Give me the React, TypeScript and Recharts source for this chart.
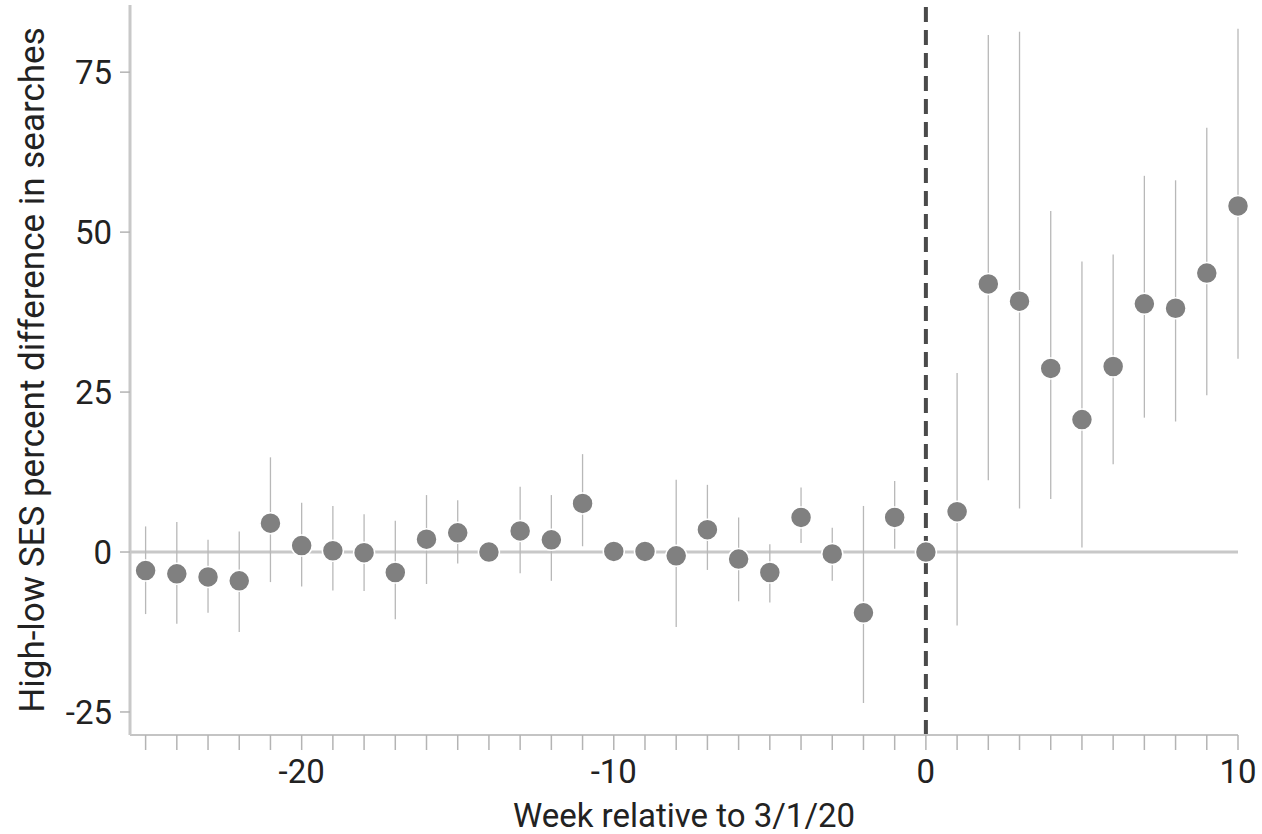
import React from 'react';
import {
  ScatterChart,
  Scatter,
  XAxis,
  YAxis,
  ErrorBar,
  ReferenceLine,
  Label,
} from 'recharts';

const weeks = [
  -25, -24, -23, -22, -21, -20, -19, -18, -17, -16, -15, -14, -13, -12, -11, -10,
  -9, -8, -7, -6, -5, -4, -3, -2, -1, 0, 1, 2, 3, 4, 5, 6, 7, 8, 9, 10,
];
const estimates = [
  -2.9, -3.4, -3.9, -4.5, 4.5, 1.0, 0.2, -0.1, -3.2, 2.0, 3.0, 0.0, 3.3, 1.9, 7.6, 0.1,
  0.1, -0.6, 3.5, -1.1, -3.2, 5.4, -0.3, -9.5, 5.4, 0.0, 6.3, 41.9, 39.2, 28.7, 20.7, 29.0,
  38.8, 38.1, 43.6, 54.1,
];
const lowerCI = [
  -9.7, -11.2, -9.5, -12.5, -4.7, -5.4, -6.0, -6.1, -10.5, -5.0, -1.8, -1.0, -3.3, -4.5, 0.9, -0.8,
  -0.8, -11.7, -2.8, -7.7, -7.9, 1.4, -4.5, -23.6, 0.5, 0.0, -11.5, 11.2, 6.8, 8.3, 0.7, 13.7,
  21.0, 20.4, 24.5, 30.2,
];
const upperCI = [
  4.0, 4.7, 1.9, 3.2, 14.8, 7.7, 7.2, 5.9, 4.9, 8.9, 8.1, 1.0, 10.2, 8.9, 15.3, 1.0,
  1.0, 11.3, 10.5, 5.4, 1.2, 10.1, 3.8, 7.2, 11.1, 0.0, 28.0, 80.8, 81.3, 53.3, 45.4, 46.5,
  58.8, 58.1, 66.3, 81.8,
];
const xTickLabels = [-20, -10, 0, 10];
const yTicks = [-25, 0, 25, 50, 75];

const data = weeks.map((w, i) => ({
  week: w,
  value: estimates[i],
  err: [estimates[i] - lowerCI[i], upperCI[i] - estimates[i]],
}));

const FONT = 'Roboto, sans-serif';
const TEXT = '#222222';

const Dot = (props: any) => {
  const { cx, cy } = props;
  if (cx == null || cy == null) return null;
  return <circle cx={cx} cy={cy} r={10.5} fill="#808080" stroke="#ffffff" strokeWidth={1.5} />;
};

export default function App() {
  return (
    <div style={{ position: 'absolute', left: 0, top: 0, width: 1262, height: 834, background: '#fff' }}>
      <ScatterChart
        width={1262}
        height={834}
        margin={{ top: 5, right: 24, bottom: 0, left: 0 }}
      >
        <XAxis
          type="number"
          dataKey="week"
          domain={[-25.5, 10]}
          ticks={weeks}
          interval={0}
          allowDecimals={false}
          tickFormatter={(v: number) => (xTickLabels.includes(v) ? String(v) : '')}
          height={99}
          tickSize={15}
          tickMargin={10}
          axisLine={{ stroke: '#c4c4c4', strokeWidth: 2 }}
          tickLine={{ stroke: '#b4b4b4', strokeWidth: 1.5 }}
          tick={{ fill: TEXT, fontSize: 33, fontFamily: FONT }}
        >
          <Label
            value="Week relative to 3/1/20"
            position="insideBottom"
            offset={7}
            style={{ fill: TEXT, fontSize: 33, fontFamily: FONT }}
          />
        </XAxis>
        <YAxis
          type="number"
          dataKey="value"
          domain={[-28.6, 85.5]}
          ticks={yTicks}
          interval={0}
          width={130}
          tickSize={10}
          tickMargin={8}
          axisLine={{ stroke: '#c8c8c8', strokeWidth: 3 }}
          tickLine={{ stroke: '#b4b4b4', strokeWidth: 1.5 }}
          tick={{ fill: TEXT, fontSize: 33, fontFamily: FONT }}
        >
          <Label
            value="High-low SES percent difference in searches"
            angle={-90}
            position="insideLeft"
            offset={32}
            style={{ fill: TEXT, fontSize: 35, fontFamily: FONT, textAnchor: 'middle' }}
          />
        </YAxis>
        <ReferenceLine y={0} stroke="#c8c8c8" strokeWidth={3} />
        <ReferenceLine x={0} stroke="#4a4a4a" strokeWidth={4} strokeDasharray="15 8" />
        <Scatter data={data} dataKey="value" shape={<Dot />} isAnimationActive={false}>
          <ErrorBar dataKey="err" direction="y" width={0} stroke="#b8b8b8" strokeWidth={1.3} />
        </Scatter>
      </ScatterChart>
    </div>
  );
}
